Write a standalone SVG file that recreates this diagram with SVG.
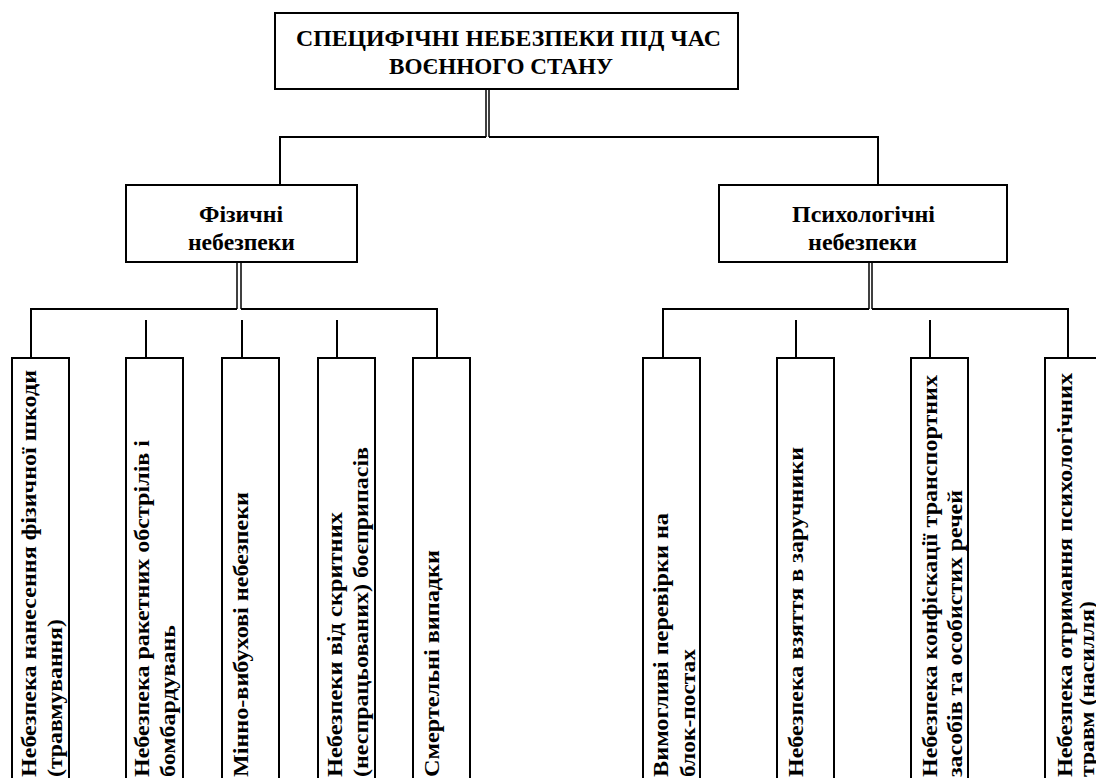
<svg xmlns="http://www.w3.org/2000/svg" width="1096" height="778" viewBox="0 0 1096 778">
<style>
.box{fill:#fff;stroke:#000;stroke-width:2}
.ln{fill:none;stroke:#000;stroke-width:2}
.dl{fill:none;stroke:#000;stroke-width:1.5}
text{font-family:"Liberation Serif","DejaVu Serif","Times New Roman",serif;font-weight:bold;fill:#000}
.h{font-size:24px;text-anchor:middle}
.m{font-size:23px;text-anchor:middle}
.v{font-size:22px}
</style>
<rect width="1096" height="778" fill="#fff"/>
<g id="connectors">
<line class="dl" x1="486" y1="89" x2="486" y2="137"/>
<line class="dl" x1="489" y1="89" x2="489" y2="137"/>
<polyline class="ln" points="486,137 280,137 280,185"/>
<polyline class="ln" points="489,137 878,137 878,185"/>
<line class="dl" x1="237" y1="262" x2="237" y2="309"/>
<line class="dl" x1="241" y1="262" x2="241" y2="309"/>
<polyline class="ln" points="237,309 31,309 31,358"/>
<polyline class="ln" points="241,309 437,309 437,358"/>
<line class="ln" x1="146" y1="320" x2="146" y2="358"/>
<line class="ln" x1="242" y1="320" x2="242" y2="358"/>
<line class="ln" x1="337" y1="320" x2="337" y2="358"/>
<line class="dl" x1="869" y1="262" x2="869" y2="309"/>
<line class="dl" x1="872" y1="262" x2="872" y2="309"/>
<polyline class="ln" points="869,309 663,309 663,358"/>
<polyline class="ln" points="872,309 1068,309 1068,358"/>
<line class="ln" x1="796" y1="320" x2="796" y2="358"/>
<line class="ln" x1="930" y1="320" x2="930" y2="358"/>
</g>
<g id="root">
<rect class="box" x="275" y="13" width="463" height="76"/>
<text class="h" x="508.5" y="46" textLength="425" lengthAdjust="spacingAndGlyphs">СПЕЦИФІЧНІ НЕБЕЗПЕКИ ПІД ЧАС</text>
<text class="h" x="501" y="74" textLength="224" lengthAdjust="spacingAndGlyphs">ВОЄННОГО СТАНУ</text>
</g>
<g id="physical">
<rect class="box" x="126" y="185" width="231" height="77"/>
<text class="m" x="241" y="222" textLength="84" lengthAdjust="spacingAndGlyphs">Фізичні</text>
<text class="m" x="241.5" y="250" textLength="107" lengthAdjust="spacingAndGlyphs">небезпеки</text>
</g>
<g id="psychological">
<rect class="box" x="719" y="185" width="288" height="77"/>
<text class="m" x="863.5" y="222" textLength="143" lengthAdjust="spacingAndGlyphs">Психологічні</text>
<text class="m" x="862.5" y="250" textLength="109" lengthAdjust="spacingAndGlyphs">небезпеки</text>
</g>
<g id="p1">
<rect class="box" x="12" y="358" width="57" height="450"/>
<text class="v" transform="translate(36,777) rotate(-90)" textLength="407" lengthAdjust="spacingAndGlyphs">Небезпека нанесення фізичної шкоди</text>
<text class="v" transform="translate(62,777) rotate(-90)" textLength="158" lengthAdjust="spacingAndGlyphs">(травмування)</text>
</g>
<g id="p2">
<rect class="box" x="126" y="358" width="57" height="450"/>
<text class="v" transform="translate(149,777) rotate(-90)" textLength="337" lengthAdjust="spacingAndGlyphs">Небезпека ракетних обстрілів і</text>
<text class="v" transform="translate(175,777) rotate(-90)" textLength="152" lengthAdjust="spacingAndGlyphs">бомбардувань</text>
</g>
<g id="p3">
<rect class="box" x="222" y="358" width="57" height="450"/>
<text class="v" transform="translate(248,777) rotate(-90)" textLength="285" lengthAdjust="spacingAndGlyphs">Мінно-вибухові небезпеки</text>
</g>
<g id="p4">
<rect class="box" x="318" y="358" width="57" height="450"/>
<text class="v" transform="translate(342,777) rotate(-90)" textLength="265" lengthAdjust="spacingAndGlyphs">Небезпеки від скритних</text>
<text class="v" transform="translate(368,777) rotate(-90)" textLength="330" lengthAdjust="spacingAndGlyphs">(неспрацьованих) боєприпасів</text>
</g>
<g id="p5">
<rect class="box" x="413" y="358" width="57" height="450"/>
<text class="v" transform="translate(439,777) rotate(-90)" textLength="227" lengthAdjust="spacingAndGlyphs">Смертельні випадки</text>
</g>
<g id="s1">
<rect class="box" x="643" y="358" width="57" height="450"/>
<text class="v" transform="translate(668,777) rotate(-90)" textLength="264" lengthAdjust="spacingAndGlyphs">Вимогливі перевірки на</text>
<text class="v" transform="translate(695,777) rotate(-90)" textLength="128" lengthAdjust="spacingAndGlyphs">блок-постах</text>
</g>
<g id="s2">
<rect class="box" x="777" y="358" width="57" height="450"/>
<text class="v" transform="translate(803,777) rotate(-90)" textLength="330" lengthAdjust="spacingAndGlyphs">Небезпека взяття в заручники</text>
</g>
<g id="s3">
<rect class="box" x="911" y="358" width="57" height="450"/>
<text class="v" transform="translate(937,777) rotate(-90)" textLength="402" lengthAdjust="spacingAndGlyphs">Небезпека конфіскації транспортних</text>
<text class="v" transform="translate(962,777) rotate(-90)" textLength="287" lengthAdjust="spacingAndGlyphs">засобів та особистих речей</text>
</g>
<g id="s4">
<rect class="box" x="1045" y="358" width="57" height="450"/>
<text class="v" transform="translate(1072,777) rotate(-90)" textLength="404" lengthAdjust="spacingAndGlyphs">Небезпека отримання психологічних</text>
<text class="v" transform="translate(1094,777) rotate(-90)" textLength="176" lengthAdjust="spacingAndGlyphs">травм (насилля)</text>
</g>
</svg>
